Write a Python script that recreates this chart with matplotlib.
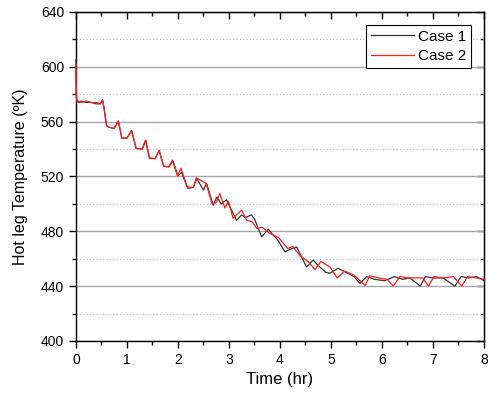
import numpy as np
import matplotlib.pyplot as plt
from matplotlib.ticker import MultipleLocator

plt.rcParams['font.family'] = ['Liberation Sans', 'DejaVu Sans']

# Case 1 (black) - time (hr), temperature (K)
t1 = [0.0, 0.005, 0.02, 0.05, 0.1, 0.2, 0.3, 0.4, 0.48, 0.52, 0.55, 0.6, 0.65, 0.75,
      0.83, 0.9, 1.0, 1.09, 1.18, 1.3, 1.37, 1.44, 1.55, 1.63, 1.72, 1.82, 1.9, 2.0,
      2.07, 2.19, 2.3, 2.37, 2.5, 2.56, 2.69, 2.76, 2.85, 2.95, 3.15, 3.25, 3.32,
      3.44, 3.5, 3.64, 3.77, 3.85, 3.95, 4.1, 4.2, 4.33, 4.52, 4.65, 4.75, 4.9,
      4.98, 5.14, 5.3, 5.45, 5.57, 5.7, 5.85, 6.05, 6.25, 6.4, 6.55, 6.75, 6.85,
      7.0, 7.2, 7.43, 7.55, 7.7, 7.85, 8.0]
T1 = [605, 580, 575, 574, 575, 574, 574, 573, 573, 576, 570, 557, 556, 555,
      560.5, 548, 548, 553.5, 540.5, 540, 546.5, 533.5, 533, 539, 527.5, 527, 531.5, 520.5,
      523, 511.5, 512, 518.5, 510, 515, 499, 505, 500, 503, 488, 492, 490,
      492, 489, 476, 481.5, 478, 474, 465, 467, 468.5, 454, 459, 455, 450,
      449.5, 453, 450, 447, 442, 447, 445, 444, 447, 445, 446, 440, 447,
      446, 446, 440, 447, 446, 447, 444]

# Case 2 (red)
t2 = [0.0, 0.005, 0.02, 0.05, 0.1, 0.2, 0.3, 0.4, 0.48, 0.52, 0.55, 0.6, 0.65, 0.75,
      0.83, 0.9, 1.0, 1.09, 1.18, 1.3, 1.36, 1.44, 1.55, 1.63, 1.72, 1.82, 1.89, 1.99,
      2.06, 2.18, 2.3, 2.36, 2.43, 2.55, 2.67, 2.75, 2.82, 2.92, 2.99, 3.08, 3.25,
      3.35, 3.45, 3.55, 3.65, 3.8, 3.97, 4.15, 4.25, 4.4, 4.55, 4.69, 4.8, 4.98,
      5.12, 5.27, 5.45, 5.67, 5.76, 6.0, 6.1, 6.22, 6.35, 6.5, 6.6, 6.8, 6.91,
      7.02, 7.2, 7.4, 7.56, 7.68, 7.85, 8.0]
T2 = [602, 578, 575, 575, 574, 575, 574, 574, 573, 576, 570, 557, 556, 555,
      560.5, 548, 548, 553.5, 540.5, 540, 546.5, 533.5, 533, 539, 527.5, 527, 532, 520.5,
      526, 512.5, 512, 519, 517.5, 515, 500, 501, 507.5, 497, 502, 489.5, 495.5,
      488, 487, 482, 483, 478.5, 475.5, 467.5, 469, 462, 458, 452, 458, 454,
      446, 451, 448, 440.5, 447.5, 445.5, 445, 440, 447, 446, 446, 446, 440,
      447, 446, 447, 440, 447, 446, 445]

fig = plt.figure(figsize=(4.88, 3.96), dpi=100)
ax = fig.add_axes([0.1557, 0.1389, 0.8361, 0.8308])

ax.plot(t1, T1, color='#333333', lw=0.9, label='Case 1', zorder=3, clip_on=False)
ax.plot(t2, T2, color='#ff2020', lw=0.9, label='Case 2', zorder=3, clip_on=False)

ax.set_xlim(0, 8)
ax.set_ylim(400, 640)
ax.xaxis.set_major_locator(MultipleLocator(1))
ax.xaxis.set_minor_locator(MultipleLocator(0.5))
ax.yaxis.set_major_locator(MultipleLocator(40))
ax.yaxis.set_minor_locator(MultipleLocator(20))

ax.grid(axis='y', which='major', color='#a8a8a8', lw=1.0, ls='-')
ax.grid(axis='y', which='minor', color='#c0c0c0', lw=0.8, ls=(0, (1, 2)))
ax.set_axisbelow(True)

ax.tick_params(which='major', direction='out', length=5, width=1, labelsize=10)
ax.tick_params(which='minor', direction='out', length=3, width=1)

# inward ticks on top and right, like the original
top = ax.secondary_xaxis('top')
top.xaxis.set_major_locator(MultipleLocator(1))
top.xaxis.set_minor_locator(MultipleLocator(0.5))
top.tick_params(which='major', direction='in', length=5, width=1, labeltop=False)
top.tick_params(which='minor', direction='in', length=3, width=1)
right = ax.secondary_yaxis('right')
right.yaxis.set_major_locator(MultipleLocator(40))
right.yaxis.set_minor_locator(MultipleLocator(20))
right.tick_params(which='major', direction='in', length=5, width=1, labelright=False)
right.tick_params(which='minor', direction='in', length=3, width=1)

for s in ax.spines.values():
    s.set_linewidth(1.0)

ax.set_xlabel('Time (hr)', fontsize=12, labelpad=4)
ax.set_ylabel('Hot leg Temperature (ºK)', fontsize=11.5, labelpad=9)

leg = ax.legend(loc='upper right', bbox_to_anchor=(0.968, 0.96), fontsize=11,
                frameon=True, fancybox=False, edgecolor='black', framealpha=1,
                handlelength=2.8, handletextpad=0.3, borderpad=0.3,
                labelspacing=0.35, borderaxespad=0)
leg.get_frame().set_linewidth(0.8)

fig.savefig('out.png', dpi=100)
